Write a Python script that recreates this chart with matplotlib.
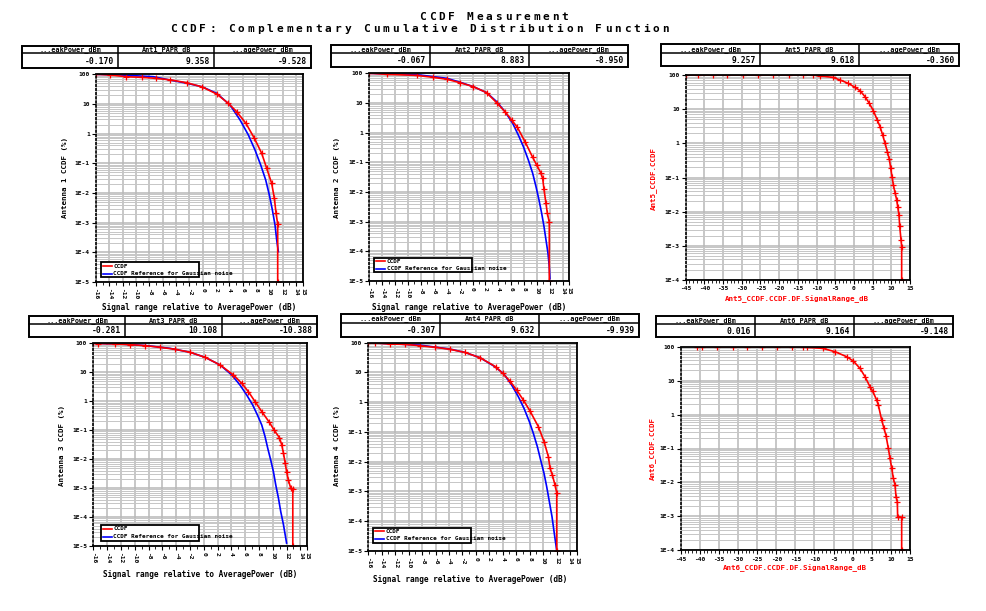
import matplotlib
matplotlib.use("Agg")
import matplotlib.pyplot as plt
from matplotlib.patches import Rectangle
from matplotlib.lines import Line2D
from matplotlib.ticker import FixedLocator, LogLocator, NullFormatter

W, H = 987, 611
MONO = "DejaVu Sans Mono"
RED = "#ff0000"
BLUE = "#0000ff"

# ---- data (dB, CCDF %) ----
ant1_red_db = [-16, -13.9, -11.5, -9.15, -7.0, -4.9, -2.4, -0.15, 2.1, 3.85, 5.1, 6.5, 7.75, 8.85, 9.6, 10.35, 10.75, 11.0, 11.25, 11.25]
ant1_red_pct = [100, 95, 83, 79, 73, 65, 52, 38, 21.7, 10.5, 5.5, 2.2, 0.70, 0.217, 0.068, 0.021, 6.6e-3, 2.1e-3, 9.0e-4, 1e-5]
ant1_blue_db = [-16, -12.4, -7.4, -4.4, -2.4, -0.1, 2.1, 4.1, 5.6, 6.85, 7.85, 8.7, 9.45, 10.0, 10.45, 10.85, 11.1, 11.35]
ant1_blue_pct = [100, 95, 83, 61, 50, 38, 22.9, 9.2, 2.9, 0.90, 0.28, 0.088, 0.0275, 8.5e-3, 2.7e-3, 8.3e-4, 2.6e-4, 1.05e-4]

ant2_red_db = [-16, -13.3, -8.66, -6.08, -4.0, -1.94, 0.12, 2.19, 3.74, 5.03, 6.07, 6.95, 8.13, 9.32, 9.94, 10.56, 10.87, 11.07, 11.38, 11.6, 11.9, 11.9]
ant2_red_pct = [100, 92.5, 85, 73, 63, 48.4, 35.5, 22.3, 10.2, 5.1, 2.67, 1.51, 0.50, 0.148, 0.081, 0.045, 0.029, 0.0126, 4.2e-3, 1.9e-3, 9.5e-4, 1e-5]
ant2_blue_db = [-16, -8.66, -4.0, -1.94, 0.12, 2.19, 3.74, 5.03, 6.22, 7.1, 7.88, 8.65, 9.32, 9.84, 10.3, 10.72, 11.08, 11.39, 11.7, 11.9, 12.0]
ant2_blue_pct = [100, 90, 68, 50, 35.5, 22.3, 11.1, 5.1, 2.07, 0.83, 0.34, 0.12, 0.043, 0.0151, 5.4e-3, 1.9e-3, 6.8e-4, 2.4e-4, 8.5e-5, 3.0e-5, 1.2e-5]

ant3_red_db = [-16, -15.3, -12.86, -10.7, -8.5, -6.34, -4.16, -2.0, 0.18, 2.36, 4.29, 5.5, 6.46, 7.43, 8.4, 9.5, 10.18, 10.96, 11.3, 11.55, 11.8, 12.0, 12.26, 12.6, 12.9, 12.9]
ant3_red_pct = [100, 97.7, 94.8, 90, 83, 72.8, 62.1, 49, 32.9, 17.9, 8.1, 4.17, 2.14, 0.97, 0.44, 0.187, 0.102, 0.055, 0.031, 0.0158, 7.2e-3, 3.7e-3, 1.9e-3, 9.9e-4, 9.3e-4, 1e-5]
ant3_blue_db = [-16, -12.14, -8.27, -4.89, -2.0, 0.18, 2.36, 4.05, 5.26, 6.22, 7.09, 7.77, 8.4, 8.88, 9.27, 9.7, 10.09, 10.43, 10.82, 11.15, 11.55, 11.8, 12.0]
ant3_blue_pct = [100, 94.8, 83, 67, 49, 32.9, 17.9, 8.1, 3.6, 1.64, 0.74, 0.336, 0.151, 0.060, 0.0237, 9.3e-3, 3.7e-3, 1.29e-3, 4.5e-4, 1.55e-4, 5.4e-5, 2.4e-5, 1.26e-5]

ant4_red_db = [-16, -15.0, -12.78, -10.54, -8.31, -6.08, -3.85, -1.62, 0.62, 2.95, 3.99, 5.08, 6.07, 7.07, 8.06, 9.3, 10.14, 10.79, 11.04, 11.38, 11.78, 12.03, 12.03]
ant4_red_pct = [100, 97.5, 90, 88, 79, 70, 60, 47, 31.3, 15.5, 9.3, 5.1, 2.55, 1.17, 0.50, 0.149, 0.047, 0.0145, 5.9e-3, 3.5e-3, 1.6e-3, 8.9e-4, 1e-5]
ant4_blue_db = [-16, -8.31, -3.85, -1.62, 0.62, 2.6, 4.09, 5.33, 6.32, 7.16, 7.96, 8.55, 9.15, 9.64, 10.14, 10.54, 10.93, 11.33, 11.63, 11.88, 12.03]
ant4_blue_pct = [100, 83, 61, 47, 31.3, 16.8, 9.3, 3.76, 1.52, 0.62, 0.22, 0.089, 0.0316, 0.0112, 4.0e-3, 1.41e-3, 4.5e-4, 1.38e-4, 4.4e-5, 1.74e-5, 1.0e-5]

ant5_db = [-45, -41.8, -37.8, -33.9, -29.6, -25.6, -21.6, -17.5, -13.5, -10.86, -9.07, -5.68, -3.72, -1.5, 0.29, 1.63, 2.96, 4.12, 5.19, 6.26, 6.98, 7.69, 8.32, 8.94, 9.48, 9.84, 10.2, 10.55, 11.0, 11.44, 11.7, 12.06, 12.24, 12.6, 12.77, 12.77]
ant5_pct = [100, 100, 100, 100, 100, 100, 100, 100, 100, 100, 93.5, 85.5, 71.4, 57, 43.6, 34.8, 23.2, 14.8, 9.0, 4.8, 3.08, 1.75, 1.0, 0.57, 0.34, 0.186, 0.106, 0.060, 0.036, 0.022, 0.0141, 7.9e-3, 3.8e-3, 1.48e-3, 9.5e-4, 1e-4]

ant6_db = [-40.8, -39.5, -35.4, -31.4, -27.6, -23.6, -19.7, -15.8, -12.9, -11.9, -7.85, -4.62, -1.57, 0.17, 1.92, 3.23, 4.53, 5.23, 6.28, 6.71, 7.59, 8.2, 8.72, 9.33, 9.77, 10.2, 10.64, 11.08, 11.34, 11.68, 11.77, 12.82, 12.82]
ant6_pct = [100, 100, 100, 100, 100, 100, 100, 100, 100, 95.5, 89.3, 71.3, 50.7, 37.8, 22.9, 13.1, 6.6, 4.9, 2.68, 1.91, 0.69, 0.39, 0.24, 0.101, 0.051, 0.027, 0.0132, 8.4e-3, 3.8e-3, 2.7e-3, 9.8e-4, 9.5e-4, 1e-4]

tbl_head_peak = "...eakPower_dBm"
tbl_head_avg = "...agePower_dBm"
ant1_tbl = ["-0.170", "9.358", "-9.528"]
ant2_tbl = ["-0.067", "8.883", "-8.950"]
ant5_tbl = ["9.257", "9.618", "-0.360"]
ant3_tbl = ["-0.281", "10.108", "-10.388"]
ant4_tbl = ["-0.307", "9.632", "-9.939"]
ant6_tbl = ["0.016", "9.164", "-9.148"]

xlabel_rel = "Signal range relative to AveragePower (dB)"

fig = plt.figure(figsize=(W / 100, H / 100), dpi=100)
fig.patch.set_facecolor("white")


def fx(x):
    return x / W


def fy(y):
    return 1 - y / H


def add_ax(x0, y0, x1, y1):
    return fig.add_axes([x0 / W, 1 - y1 / H, (x1 - x0) / W, (y1 - y0) / H])


def ftext(x, y, s, size=5.5, color="black", **kw):
    fig.text(fx(x), fy(y), s, fontsize=size, color=color, family=MONO,
             fontweight="bold", **kw)


def spaced(x, y, s, pitch, size):
    # letter spaced title text, one glyph at a time
    for i, ch in enumerate(s):
        ftext(x + pitch * (i + 0.5), y, ch, size=size, ha="center", va="center")


def table(xs, y0, ym, y1, labels, values):
    fig.add_artist(Rectangle((fx(xs[0]), fy(y1)), fx(xs[-1]) - fx(xs[0]), fy(y0) - fy(y1),
                             transform=fig.transFigure, fill=False, lw=1.4, ec="black"))
    fig.add_artist(Line2D([fx(xs[0]), fx(xs[-1])], [fy(ym), fy(ym)],
                          transform=fig.transFigure, lw=1.1, color="black"))
    for xv in xs[1:-1]:
        fig.add_artist(Line2D([fx(xv), fx(xv)], [fy(y0), fy(y1)],
                              transform=fig.transFigure, lw=1.1, color="black"))
    for i in range(3):
        ftext((xs[i] + xs[i + 1]) / 2, (y0 + ym) / 2 + 0.3, labels[i], size=4.9, ha="center", va="center")
        ftext(xs[i + 1] - 4, (ym + y1) / 2 + 0.5, values[i], size=5.8, ha="right", va="center")


def legend(x0, y0, x1, y1, entries):
    fig.add_artist(Rectangle((fx(x0), fy(y1)), fx(x1) - fx(x0), fy(y0) - fy(y1),
                             transform=fig.transFigure, fc="white", lw=1.3, ec="black", zorder=5))
    n = len(entries)
    for i, (lab, col) in enumerate(entries):
        yy = y0 + (y1 - y0) * (i + 0.5) / n
        fig.add_artist(Line2D([fx(x0 + 2), fx(x0 + 11)], [fy(yy), fy(yy)],
                              transform=fig.transFigure, lw=1.2, color=col, zorder=6))
        fig.text(fx(x0 + 12.5), fy(yy), lab, fontsize=4.3, family=MONO, fontweight="bold",
                 va="center", ha="left", zorder=7)


def style(ax, xlim, majors, minors, ylo, rot_labels):
    ax.set_yscale("log")
    ax.set_xlim(*xlim)
    ax.set_ylim(ylo, 100)
    ax.xaxis.set_major_locator(FixedLocator(majors))
    ax.xaxis.set_minor_locator(FixedLocator(minors))
    decs = [10.0 ** k for k in range(-5, 3) if 10.0 ** k >= ylo * 0.99]
    ax.yaxis.set_major_locator(FixedLocator(decs))
    ax.yaxis.set_minor_locator(LogLocator(base=10, subs=range(2, 10), numticks=20))
    ax.yaxis.set_minor_formatter(NullFormatter())
    ylabs = []
    for k in range(len(decs)):
        e = 2 - (len(decs) - 1 - k)
        ylabs.append(str(10 ** e) if e >= 0 else "1E%d" % e)
    ax.set_yticklabels(ylabs, fontsize=4.5, family=MONO, fontweight="bold")
    if rot_labels:
        ax.set_xticklabels([str(v) for v in majors], fontsize=4.5, family=MONO,
                           fontweight="bold", rotation=270)
    else:
        ax.set_xticklabels([str(v) for v in majors], fontsize=4.5, family=MONO, fontweight="bold")
    ax.grid(True, which="major", color="#b8b8b8", lw=1.1)
    ax.grid(True, which="minor", axis="y", color="#c6c6c6", lw=0.7)
    ax.tick_params(axis="both", which="major", length=3, width=0.8, pad=1.5)
    ax.tick_params(axis="x", which="minor", length=2, width=0.6)
    ax.tick_params(axis="y", which="minor", length=0)
    ax.set_axisbelow(True)
    for sp in ["top", "right", "bottom"]:
        ax.spines[sp].set_linewidth(1.3)
    ax.spines["left"].set_linestyle((0, (1, 1.5)))
    ax.spines["left"].set_linewidth(1.2)


rel_major = list(range(-16, 15, 2)) + [15]
rel_minor = list(range(-16, 16, 1))
abs_major = list(range(-45, 16, 5))
abs_minor = list(range(-45, 16, 1))

# ---- title ----
spaced(418, 17, "CCDF Measurement", 9.5, 8)
spaced(169, 29, "CCDF: Complementary Cumulative Distribution Function", 9.65, 8)

# ---- Antenna 1 ----
ax1 = add_ax(96, 74.3, 302.7, 282)
ax1.plot(ant1_blue_db, ant1_blue_pct, color=BLUE, lw=1.2)
ax1.plot(ant1_red_db, ant1_red_pct, color=RED, lw=1.2, marker="+", ms=4, mew=0.9)
style(ax1, (-16, 15), rel_major, rel_minor, 1e-5, True)
table([22.3, 118.3, 214, 310.7], 46, 53.3, 68.3, [tbl_head_peak, "Ant1_PAPR_dB", tbl_head_avg], ant1_tbl)
legend(101, 262.3, 199.3, 277.3, [("CCDF", RED), ("CCDF Reference for Gaussian noise", BLUE)])
ftext(64.7, 178, "Antenna 1 CCDF (%)", rotation=90, ha="center", va="center", size=5.4)
ftext(199, 308, xlabel_rel, ha="center", va="center", size=5.6)

# ---- Antenna 2 ----
ax2 = add_ax(369.3, 73.3, 569.3, 281)
ax2.plot(ant2_blue_db, ant2_blue_pct, color=BLUE, lw=1.2)
ax2.plot(ant2_red_db, ant2_red_pct, color=RED, lw=1.2, marker="+", ms=4, mew=0.9)
style(ax2, (-16, 15), rel_major, rel_minor, 1e-5, True)
table([330.7, 430, 529.3, 628.5], 45, 53.3, 67.3, [tbl_head_peak, "Ant2_PAPR_dB", tbl_head_avg], ant2_tbl)
legend(374.3, 257.7, 471.7, 272.3, [("CCDF", RED), ("CCDF Reference for Gaussian noise", BLUE)])
ftext(337.3, 177, "Antenna 2 CCDF (%)", rotation=90, ha="center", va="center", size=5.4)
ftext(469, 308, xlabel_rel, ha="center", va="center", size=5.6)

# ---- Antenna 5 ----
ax3 = add_ax(685.7, 75, 910, 280)
ax3.plot(ant5_db, ant5_pct, color=RED, lw=1.2, marker="+", ms=4, mew=0.9)
style(ax3, (-45, 15), abs_major, abs_minor, 1e-4, False)
table([660.7, 760, 859.3, 959.3], 44.3, 53.3, 66, [tbl_head_peak, "Ant5_PAPR_dB", tbl_head_avg], ant5_tbl)
ftext(653, 178, "Ant5_CCDF.CCDF", color=RED, rotation=90, ha="center", va="center", size=5.4)
ftext(797, 299.5, "Ant5_CCDF.CCDF.DF.SignalRange_dB", color=RED, ha="center", va="center", size=5.4)

# ---- Antenna 3 ----
ax4 = add_ax(93.3, 343.3, 307.3, 546)
ax4.plot(ant3_blue_db, ant3_blue_pct, color=BLUE, lw=1.2)
ax4.plot(ant3_red_db, ant3_red_pct, color=RED, lw=1.2, marker="+", ms=4, mew=0.9)
style(ax4, (-16, 15), rel_major, rel_minor, 1e-5, True)
table([29.3, 125, 221.7, 316.7], 315.7, 324, 336.7, [tbl_head_peak, "Ant3_PAPR_dB", tbl_head_avg], ant3_tbl)
legend(101, 525, 199.3, 541, [("CCDF", RED), ("CCDF Reference for Gaussian noise", BLUE)])
ftext(61.7, 445, "Antenna 3 CCDF (%)", rotation=90, ha="center", va="center", size=5.4)
ftext(200, 574.5, xlabel_rel, ha="center", va="center", size=5.6)

# ---- Antenna 4 ----
ax5 = add_ax(368.3, 342.7, 576.7, 550.7)
ax5.plot(ant4_blue_db, ant4_blue_pct, color=BLUE, lw=1.2)
ax5.plot(ant4_red_db, ant4_red_pct, color=RED, lw=1.2, marker="+", ms=4, mew=0.9)
style(ax5, (-16, 15), rel_major, rel_minor, 1e-5, True)
table([340.7, 440, 539.3, 638.7], 314.3, 322.7, 337.3, [tbl_head_peak, "Ant4_PAPR_dB", tbl_head_avg], ant4_tbl)
legend(373.3, 527.7, 470.7, 542.7, [("CCDF", RED), ("CCDF Reference for Gaussian noise", BLUE)])
ftext(336.7, 446, "Antenna 4 CCDF (%)", rotation=90, ha="center", va="center", size=5.4)
ftext(470, 579, xlabel_rel, ha="center", va="center", size=5.6)

# ---- Antenna 6 ----
ax6 = add_ax(680.7, 346.7, 910, 550.3)
ax6.plot(ant6_db, ant6_pct, color=RED, lw=1.2, marker="+", ms=4, mew=0.9)
style(ax6, (-45, 15), abs_major, abs_minor, 1e-4, False)
table([655.7, 755.3, 854.3, 953.3], 315.7, 324.3, 337.3, [tbl_head_peak, "Ant6_PAPR_dB", tbl_head_avg], ant6_tbl)
ftext(652.7, 448, "Ant6_CCDF.CCDF", color=RED, rotation=90, ha="center", va="center", size=5.4)
ftext(795, 568.5, "Ant6_CCDF.CCDF.DF.SignalRange_dB", color=RED, ha="center", va="center", size=5.4)

fig.savefig("out.png", dpi=100)
